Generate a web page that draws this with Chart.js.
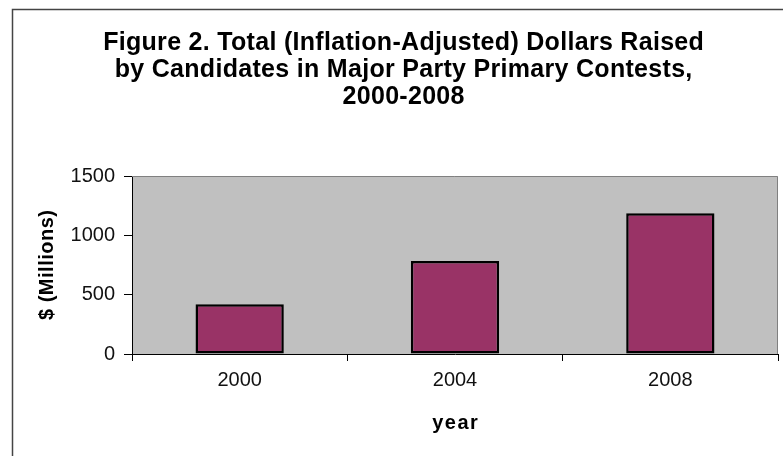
<!DOCTYPE html>
<html>
<head>
<meta charset="utf-8">
<script src="https://cdn.jsdelivr.net/npm/chart.js@4/dist/chart.umd.min.js"></script>
<style>
  html, body { margin: 0; padding: 0; background: #ffffff; }
  #wrap { width: 783px; height: 456px; position: relative; }
</style>
</head>
<body>
<div id="wrap"><canvas id="c" width="783" height="456"></canvas></div>
<script>
// Primary-season fundraising, inflation-adjusted, $ millions
const years = ['2000', '2004', '2008'];
const dollarsRaised = [419, 784, 1186];
const yTicks = [0, 500, 1000, 1500];

const titleLines = [
  'Figure 2. Total (Inflation-Adjusted) Dollars Raised',
  'by Candidates in Major Party Primary Contests,',
  '2000-2008'
];
const yTitle = '$ (Millions)';
const xTitle = 'year';

const FONT = '"Liberation Sans", Arial, sans-serif';

// Draw text centred on (x, y), compensating for trailing letter spacing
function spacedText(ctx, text, x, y, spacing) {
  ctx.letterSpacing = spacing + 'px';
  ctx.fillText(text, x + spacing / 2, y);
  ctx.letterSpacing = '0px';
}

// Frame, plot-area fill and the text around the plot
const decor = {
  id: 'decor',
  beforeDraw(chart) {
    const ctx = chart.ctx;
    const a = chart.chartArea;
    ctx.save();
    ctx.fillStyle = '#ffffff';
    ctx.fillRect(0, 0, chart.width, chart.height);
    ctx.strokeStyle = '#444444';
    ctx.lineWidth = 1.5;
    ctx.strokeRect(12.5, 9.5, 800, 480);
    ctx.fillStyle = '#c0c0c0';
    ctx.fillRect(a.left, a.top, a.right - a.left, a.bottom - a.top);
    ctx.restore();
  },
  beforeDatasetsDraw(chart) {
    const ctx = chart.ctx;
    const a = chart.chartArea;
    ctx.save();
    ctx.strokeStyle = '#808080';
    ctx.lineWidth = 1;
    ctx.beginPath();
    ctx.moveTo(a.left, a.top + 0.5);
    ctx.lineTo(a.right - 0.5, a.top + 0.5);
    ctx.lineTo(a.right - 0.5, a.bottom);
    ctx.stroke();
    ctx.restore();
  },
  afterDraw(chart) {
    const ctx = chart.ctx;
    const a = chart.chartArea;
    ctx.save();
    ctx.fillStyle = '#000000';
    ctx.textAlign = 'center';
    ctx.textBaseline = 'alphabetic';
    ctx.font = 'bold 25px ' + FONT;
    titleLines.forEach((t, i) => spacedText(ctx, t, 403.5, 50 + i * 27, 0.3));

    ctx.font = 'bold 20px ' + FONT;
    ctx.textBaseline = 'middle';
    spacedText(ctx, xTitle, (a.left + a.right) / 2, 423, 1.5);

    ctx.translate(47, (a.top + a.bottom) / 2);
    ctx.rotate(-Math.PI / 2);
    spacedText(ctx, yTitle, 0, 0, 0.5);
    ctx.restore();
  }
};

new Chart(document.getElementById('c'), {
  type: 'bar',
  data: {
    labels: years,
    datasets: [{
      data: dollarsRaised,
      backgroundColor: '#993366',
      borderColor: '#000000',
      borderWidth: 2.5,
      borderSkipped: false,
      barPercentage: 0.41,
      categoryPercentage: 1.0
    }]
  },
  options: {
    responsive: false,
    animation: false,
    devicePixelRatio: 1,
    layout: { padding: { top: 176, right: 5, left: 0, bottom: 0 } },
    plugins: {
      legend: { display: false },
      title: { display: false },
      tooltip: { enabled: false }
    },
    scales: {
      x: {
        type: 'category',
        offset: true,
        afterFit(scale) { scale.height = 102; },
        grid: {
          display: true,
          offset: true,
          drawOnChartArea: false,
          drawTicks: true,
          tickLength: 7,
          color: '#000000',
          lineWidth: 1
        },
        border: { display: true, color: '#000000', width: 1 },
        ticks: {
          color: '#111111',
          font: { family: FONT, size: 20 },
          padding: 7,
          maxRotation: 0
        }
      },
      y: {
        min: 0,
        max: 1500,
        afterFit(scale) { scale.width = 132; },
        afterBuildTicks(scale) { scale.ticks = yTicks.map(v => ({ value: v })); },
        grid: {
          display: true,
          drawOnChartArea: false,
          drawTicks: true,
          tickLength: 8,
          color: '#000000',
          lineWidth: 1
        },
        border: { display: true, color: '#000000', width: 1 },
        ticks: {
          color: '#111111',
          font: { family: FONT, size: 20 },
          padding: 9,
          callback: (v) => String(v)
        }
      }
    }
  },
  plugins: [decor]
});
</script>
</body>
</html>
